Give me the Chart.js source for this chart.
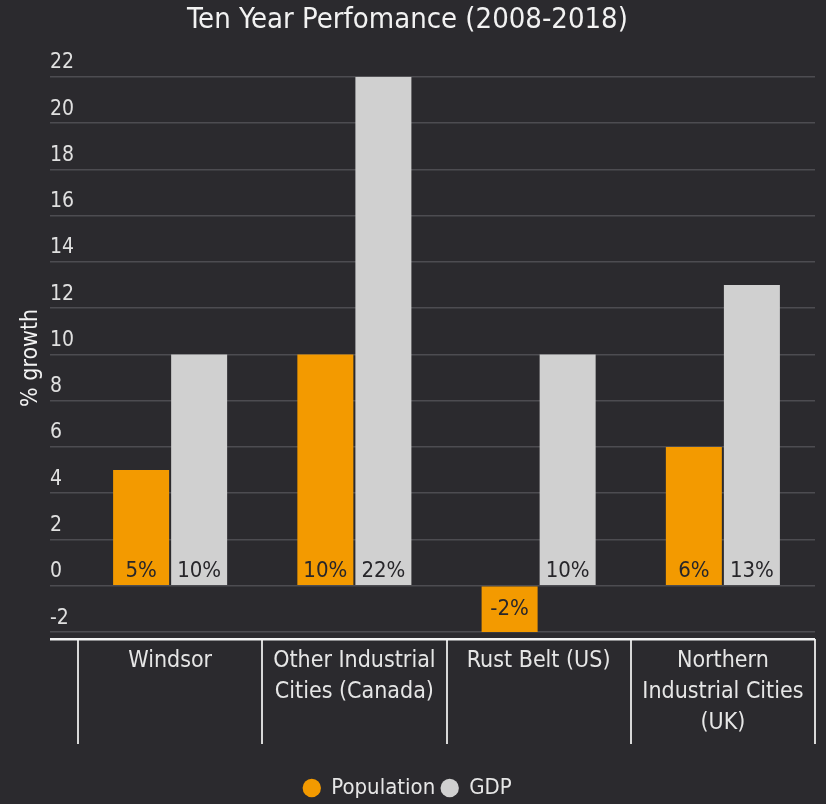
<!DOCTYPE html>
<html>
<head>
<meta charset="utf-8">
<title>Ten Year Perfomance (2008-2018)</title>
<script src="https://cdn.jsdelivr.net/npm/chart.js@4.4.1/dist/chart.umd.min.js"></script>
<style>
  html, body { margin: 0; padding: 0; background: #2b2a2e; }
  #wrap { width: 826px; height: 804px; position: relative; }
</style>
</head>
<body>
<div id="wrap"><canvas id="growthChart"></canvas></div>
<script>
let categories = [
  ['Windsor'],
  ['Other Industrial', 'Cities (Canada)'],
  ['Rust Belt (US)'],
  ['Northern', 'Industrial Cities', '(UK)']
];
let population = [5, 10, -2, 6];
let gdp = [10, 22, 10, 13];
let yTicks = [-2, 0, 2, 4, 6, 8, 10, 12, 14, 16, 18, 20, 22];
let yMin = -2.3;
let yMax = 22;

const fontFamily = "'Liberation Sans Narrow', 'DejaVu Sans Condensed', sans-serif";
Chart.defaults.font.family = fontFamily;
Chart.defaults.color = '#e6e6e6';

// value labels sitting inside each bar, near the zero line
const barLabels = {
  id: 'barLabels',
  afterDatasetsDraw(chart) {
    const ctx = chart.ctx;
    ctx.save();
    ctx.font = '22px ' + fontFamily;
    ctx.fillStyle = '#27262a';
    ctx.textAlign = 'center';
    ctx.textBaseline = 'middle';
    chart.data.datasets.forEach((ds, i) => {
      chart.getDatasetMeta(i).data.forEach((bar, j) => {
        const v = ds.data[j];
        const y = v >= 0 ? bar.base - 14 : (bar.base + bar.y) / 2;
        ctx.fillText(v + '%', bar.x, y);
      });
    });
    ctx.restore();
  }
};

let ctx = document.getElementById('growthChart').getContext('2d');

let myChart = new Chart(ctx, {
  type: 'bar',
  data: {
    labels: categories,
    datasets: [{
      label: 'Population',
      data: population,
      backgroundColor: '#f39a00'
    }, {
      label: 'GDP',
      data: gdp,
      backgroundColor: '#d0d0d0'
    }]
  },
  options: {
    responsive: true,
    maintainAspectRatio: false,
    animation: false,
    categoryPercentage: 0.63,
    barPercentage: 0.965,
    layout: {
      padding: { left: 0, right: 11, top: 0, bottom: -5 }
    },
    plugins: {
      title: {
        display: true,
        text: 'Ten Year Perfomance (2008-2018)',
        color: '#f2f2f2',
        font: { size: 29, weight: 'normal' },
        padding: { top: 3, bottom: 39 }
      },
      legend: {
        position: 'bottom',
        labels: {
          usePointStyle: true,
          pointStyle: 'circle',
          boxWidth: 17,
          boxHeight: 13,
          color: '#e6e6e6',
          font: { size: 22 },
          padding: 6
        }
      },
      tooltip: { enabled: false }
    },
    scales: {
      x: {
        border: { display: false },
        grid: {
          offset: true,
          drawOnChartArea: false,
          tickLength: 105,
          color: '#d8d8d8',
          lineWidth: 2
        },
        ticks: {
          color: '#e6e6e6',
          font: { size: 23, lineHeight: 1.35 },
          padding: -98.5,
          maxRotation: 0
        },
        afterFit: (scale) => { scale.height = 132; }
      },
      y: {
        min: yMin,
        max: yMax,
        border: { display: false },
        title: {
          display: true,
          text: '% growth',
          color: '#f2f2f2',
          font: { size: 23 },
          padding: { top: 17, bottom: 0 }
        },
        grid: {
          tickLength: 28,
          color: (c) => c.tick && c.tick.value === yMin ? '#f2f2f2' : '#4d4c51',
          lineWidth: (c) => c.tick && c.tick.value === yMin ? 2.5 : 1.5
        },
        ticks: {
          mirror: true,
          padding: -28,
          labelOffset: -14,
          color: '#e0e0e0',
          font: { size: 21 },
          callback: (v) => yTicks.includes(v) ? v : ''
        },
        afterBuildTicks: (scale) => {
          scale.ticks = [yMin].concat(yTicks).map(v => ({ value: v }));
        },
        afterFit: (scale) => { scale.width = 78; }
      }
    }
  },
  plugins: [barLabels]
});
</script>
</body>
</html>
